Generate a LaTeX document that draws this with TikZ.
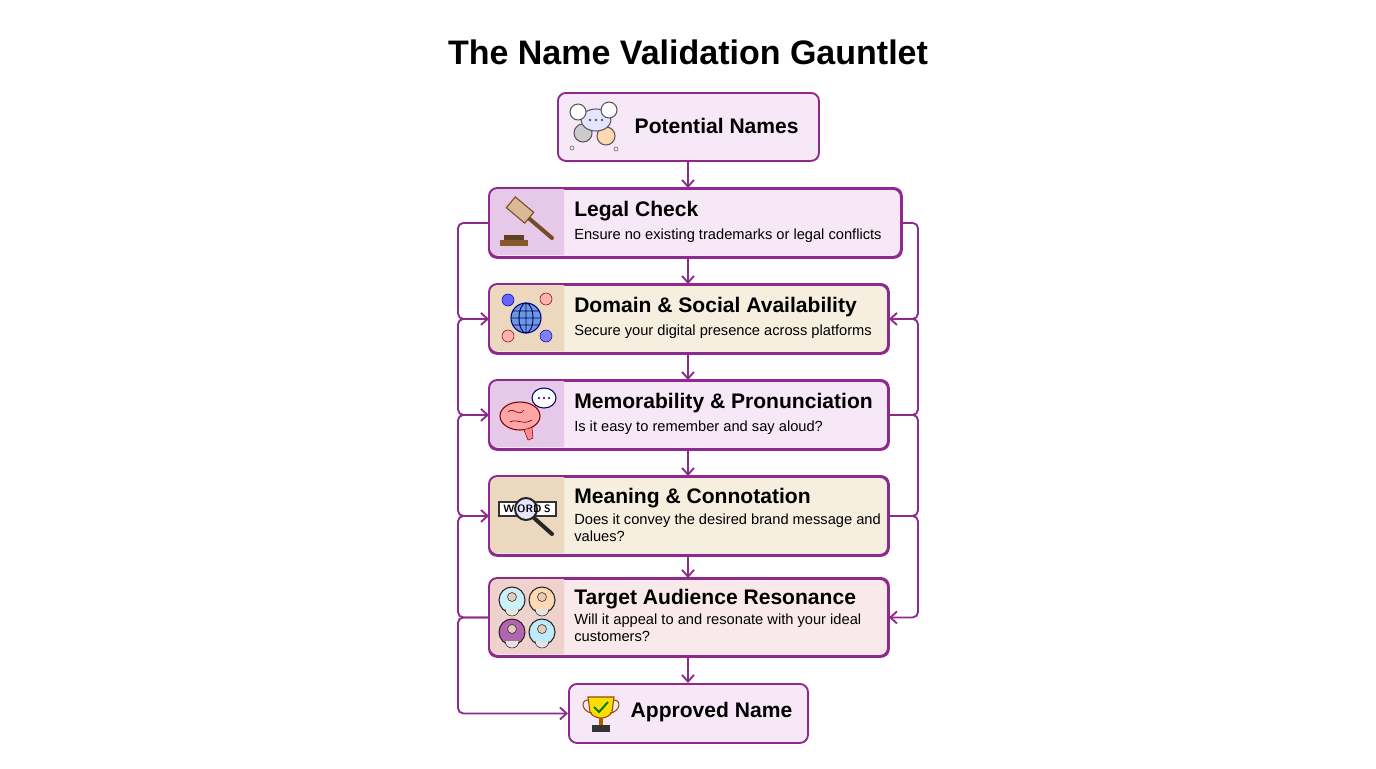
\documentclass[tikz,border=0pt]{standalone}
\usepackage{fontspec}
\setmainfont{Liberation Sans}
\usetikzlibrary{arrows.meta}
\definecolor{pur}{HTML}{8E2A8E}
\definecolor{lpur}{HTML}{F7E8F7}
\definecolor{ppur}{HTML}{E6C8E8}
\definecolor{lbei}{HTML}{F6EEDF}
\definecolor{pbei}{HTML}{EBD8BF}
\definecolor{lpink}{HTML}{F9E9EA}
\definecolor{ppink}{HTML}{F0D2CC}
\tikzset{
  border/.style={draw=pur,line width=1.4pt,rounded corners=6pt},
  arr/.style={draw=pur,line width=1.4pt,-{Straight Barb[length=5pt,width=9pt]},rounded corners=4pt},
  lin/.style={draw=pur,line width=1.4pt,rounded corners=4pt},
  ttl/.style={font=\bfseries\fontsize{15.8}{18}\selectfont,anchor=west,inner sep=0},
  sub/.style={font=\fontsize{11}{12.5}\selectfont,anchor=north west,align=left,inner sep=0},
}
\newcommand\mybox[7]{%
  \node[border,fill=#6,anchor=north west,minimum width={(#4-#2)*0.75pt},minimum height={(#5-#3)*0.75pt},inner sep=0] (#1) at (#2,#3) {};
  \fill[#7,rounded corners=5pt] ({#2+1},{#3+1}) -- ({#2+1},{#5-1}) [sharp corners] -- ({#2+75},{#5-1}) -- ({#2+75},{#3+1}) [rounded corners=5pt] -- cycle;
  \draw[border] (#1.north west) rectangle (#1.south east);
}
\begin{document}
\begin{tikzpicture}[x=0.75pt,y=-0.75pt]
\useasboundingbox[fill=white] (0,0) rectangle (1376,768);
\node[font=\bfseries\fontsize{25.5}{29}\selectfont] (title) at (688,52) {The Name Validation Gauntlet};

% top box
\node[border,fill=lpur,anchor=north west,minimum width={261*0.75pt},minimum height={68*0.75pt},inner sep=0] (pot) at (557,92) {};
\node[font=\bfseries\fontsize{15.8}{19}\selectfont,anchor=west] (pott) at (630,126) {Potential Names};
% clouds icon
\draw[gray!70!black,fill=gray!40,line width=0.8pt] (583,133) circle (9);
\draw[gray!70!black,fill=orange!30,line width=0.8pt] (606,136) circle (9);
\draw[gray!70!black,fill=blue!10,line width=0.8pt] (596,120) ellipse (15 and 11);
\draw[gray!70!black,fill=white,line width=0.8pt] (578,112) circle (8);
\draw[gray!70!black,fill=white,line width=0.8pt] (609,110) circle (8);
\foreach \d in {590,596,602} \fill[gray!70!black] (\d,120) circle (1.4);
\draw[gray!70!black] (572,148) circle (2) (616,149) circle (2);

\mybox{legal}{489}{188}{900}{256}{lpur}{ppur}
\node[ttl] (legalt) at (574,211) {Legal Check};
\node[sub] (legals) at (574,229) {Ensure no existing trademarks or legal conflicts};
% gavel
\fill[brown!70!black] (500,240) rectangle (528,246);
\fill[brown!50!black] (504,235) rectangle (524,240);
\draw[brown!60!black,line width=3pt,line cap=round] (525,215) -- (552,238);
\draw[brown!60!black,fill=brown!55,line width=0.8pt,rotate around={-40:(520,210)}] (508,203) rectangle (532,217);

\mybox{domain}{489}{284}{887}{352}{lbei}{pbei}
\node[ttl] (domaint) at (574,307) {Domain \& Social Availability};
\node[sub] (domains) at (574,325) {Secure your digital presence across platforms};
% globe
\draw[blue!50!black,fill=cyan!50!blue!60,line width=0.8pt] (526,318) circle (15);
\draw[blue!50!black,line width=0.7pt] (526,303) -- (526,333) (511,318) -- (541,318) (526,318) ellipse (7 and 15) (513,311) -- (539,311) (513,325) -- (539,325);
\draw[blue!60!black,fill=blue!60] (508,300) circle (6);
\draw[red!50!black,fill=red!30] (546,299) circle (6);
\draw[red!50!black,fill=red!30] (508,336) circle (6);
\draw[blue!60!black,fill=blue!50] (546,336) circle (6);

\mybox{memo}{489}{380}{887}{448}{lpur}{ppur}
\node[ttl] (memot) at (574,403) {Memorability \& Pronunciation};
\node[sub] (memos) at (574,421) {Is it easy to remember and say aloud?};
% brain
\draw[red!50!black,fill=red!35,line width=0.8pt] (520,416) ellipse (20 and 14);
\draw[red!50!black,fill=red!45] (524,430) -- (528,440) -- (533,438) -- (532,428);
\draw[red!50!black,line width=0.5pt] (508,412) .. controls (514,406) and (518,418) .. (524,410) (510,422) .. controls (518,418) and (522,426) .. (532,420);
\draw[blue!40!black,fill=white,line width=0.8pt] (544,398) ellipse (12 and 10);
\foreach \d in {539,544,549} \fill[blue!40!black] (\d,398) circle (1.2);

\mybox{meaning}{489}{476}{887}{554}{lbei}{pbei}
\node[ttl] (meaningt) at (574,498) {Meaning \& Connotation};
\node[sub] (meanings) at (574,514) {Does it convey the desired brand message and\\values?};
% magnifier
\draw[gray!40!black,fill=white,line width=0.8pt] (499,502) rectangle (556,516);
\draw[gray!30!black,line width=3pt,line cap=round] (534,518) -- (552,534);
\draw[gray!30!black,fill=blue!10,line width=1.5pt] (526,509) circle (11);
\node[font=\sffamily\bfseries\fontsize{8}{8}\selectfont,inner sep=0] (wtxt) at (527,509) {W\kern2pt ORD\kern2pt S};

\mybox{target}{489}{578}{887}{655}{lpink}{ppink}
\node[ttl] (targett) at (574,599) {Target Audience Resonance};
\node[sub] (targets) at (574,614) {Will it appeal to and resonate with your ideal\\customers?};
% people
\draw[gray!30!black,fill=cyan!20,line width=0.8pt] (512,600) circle (13);
\draw[gray!30!black,fill=orange!30,line width=0.8pt] (542,600) circle (13);
\draw[gray!30!black,fill=violet!60,line width=0.8pt] (512,632) circle (13);
\draw[gray!30!black,fill=cyan!25,line width=0.8pt] (542,632) circle (13);
\foreach \px/\py in {512/600,542/600,512/632,542/632}{
  \draw[gray!30!black,fill=brown!40] (\px,{\py-3}) circle (4.5);
  \draw[gray!30!black,fill=white!80!gray] ({\px-7},{\py+9}) arc (180:0:7);
}

\node[border,fill=lpur,anchor=north west,minimum width={239*0.75pt},minimum height={59*0.75pt},inner sep=0] (appr) at (568,683) {};
\node[font=\bfseries\fontsize{15.8}{19}\selectfont,anchor=west] (apprt) at (626,712) {Approved Name};
% trophy
\draw[orange!60!black,fill=yellow!80!orange,line width=0.8pt] (588,697) -- (614,697) -- (612,712) .. controls (608,720) and (594,720) .. (590,712) -- cycle;
\draw[orange!60!black,line width=0.8pt] (588,700) .. controls (580,700) and (582,712) .. (592,713) (614,700) .. controls (622,700) and (620,712) .. (610,713);
\fill[orange!70!black] (599,718) rectangle (603,725);
\fill[gray!40!black] (592,725) rectangle (610,732);
\draw[green!50!black,line width=1.5pt] (594,707) -- (599,712) -- (608,702);

% centre arrows
\draw[arr] (pot.south -| 688,0) -- (688,188);
\draw[arr] (688,256) -- (688,284);
\draw[arr] (688,352) -- (688,380);
\draw[arr] (688,448) -- (688,476);
\draw[arr] (688,554) -- (688,578);
\draw[arr] (688,655) -- (688,683);

% left loops
\draw[arr] (legal.west) -| (458,280) |- (domain.west);
\draw[arr] (domain.west) -| (458,380) |- (memo.west);
\draw[arr] (memo.west) -| (458,470) |- (meaning.west);
\draw[lin] (meaning.west) -| (458,570) |- (target.west);
\draw[arr] (target.west) -| (458,680) |- (appr.west);

% right loops
\draw[arr] (legal.east) -| (918,280) |- (domain.east);
\draw[lin] (domain.east) -| (918,380) |- (memo.east);
\draw[lin] (memo.east) -| (918,470) |- (meaning.east);
\draw[arr] (meaning.east) -| (918,570) |- (target.east);
\end{tikzpicture}
\end{document}
